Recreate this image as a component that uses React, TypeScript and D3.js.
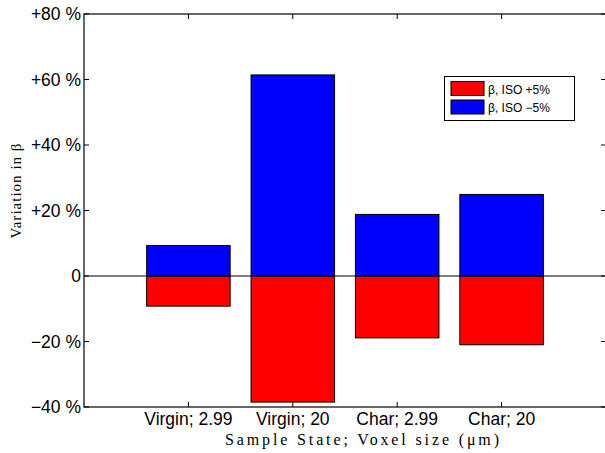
import React, { useRef, useEffect } from "react";
import * as d3 from "d3";

// data
const categories = ["Virgin; 2.99", "Virgin; 20", "Char; 2.99", "Char; 20"];
const isoPlus5 = [-9.2, -38.5, -18.9, -21.0];
const isoMinus5 = [9.3, 61.4, 18.8, 24.9];
const yTicks = [-40, -20, 0, 20, 40, 60, 80];
const yTickLabels = ["\u221240 %", "\u221220 %", "0", "+20 %", "+40 %", "+60 %", "+80 %"];
const legendLabels = ["\u03b2, ISO +5%", "\u03b2, ISO \u22125%"];
const seriesColors = ["#ff0000", "#0000ff"];

const App = () => {
  const ref = useRef<SVGSVGElement>(null);

  useEffect(() => {
    const width = 605;
    const height = 453;
    const m = { top: 14, right: 606, bottom: 407, left: 84 };

    const svg = d3.select(ref.current);
    svg.selectAll("*").remove();

    const x = d3.scaleLinear().domain([0, 5]).range([m.left, m.right]);
    const y = d3.scaleLinear().domain([-40, 80]).range([m.bottom, m.top]);
    const barW = (x(1) - x(0)) * 0.8;

    svg.append("rect").attr("width", width).attr("height", height).attr("fill", "#fff");

    // bars
    const series = [isoPlus5, isoMinus5];
    series.forEach((vals, si) => {
      svg
        .append("g")
        .selectAll("rect")
        .data(vals)
        .join("rect")
        .attr("x", (_d, i) => x(i + 1) - barW / 2)
        .attr("y", (d) => y(Math.max(0, d)))
        .attr("width", barW)
        .attr("height", (d) => Math.abs(y(d) - y(0)))
        .attr("fill", seriesColors[si])
        .attr("stroke", "#000")
        .attr("stroke-width", 1);
    });

    // zero line
    svg
      .append("line")
      .attr("x1", m.left)
      .attr("x2", m.right)
      .attr("y1", y(0))
      .attr("y2", y(0))
      .attr("stroke", "#000")
      .attr("stroke-width", 1);

    // box
    svg
      .append("rect")
      .attr("x", m.left)
      .attr("y", m.top)
      .attr("width", m.right - m.left)
      .attr("height", m.bottom - m.top)
      .attr("fill", "none")
      .attr("stroke", "#000")
      .attr("stroke-width", 1.2);

    // inward ticks
    const tk = 5;
    const ticks = svg.append("g").attr("stroke", "#000").attr("stroke-width", 1);
    yTicks.forEach((t) => {
      ticks.append("line").attr("x1", m.left).attr("x2", m.left + tk).attr("y1", y(t)).attr("y2", y(t));
      ticks.append("line").attr("x1", m.right).attr("x2", m.right - tk).attr("y1", y(t)).attr("y2", y(t));
    });
    categories.forEach((_c, i) => {
      ticks.append("line").attr("x1", x(i + 1)).attr("x2", x(i + 1)).attr("y1", m.bottom).attr("y2", m.bottom - tk);
      ticks.append("line").attr("x1", x(i + 1)).attr("x2", x(i + 1)).attr("y1", m.top).attr("y2", m.top + tk);
    });

    // y tick labels
    svg
      .append("g")
      .attr("font-family", "Liberation Sans, Arial, sans-serif")
      .attr("font-size", 17.5)
      .attr("text-anchor", "end")
      .selectAll("text")
      .data(yTicks)
      .join("text")
      .attr("x", m.left - 3)
      .attr("y", (d) => y(d))
      .attr("dy", "0.36em")
      .text((_d, i) => yTickLabels[i]);

    // x tick labels
    svg
      .append("g")
      .attr("font-family", "Liberation Sans, Arial, sans-serif")
      .attr("font-size", 17.5)
      .attr("text-anchor", "middle")
      .selectAll("text")
      .data(categories)
      .join("text")
      .attr("x", (_d, i) => x(i + 1))
      .attr("y", 425)
      .text((d) => d);

    // axis titles
    svg
      .append("text")
      .attr("x", 362)
      .attr("y", 445)
      .attr("text-anchor", "middle")
      .attr("font-family", "Liberation Serif, DejaVu Serif, serif")
      .attr("font-size", 16)
      .attr("textLength", 274)
      .attr("lengthAdjust", "spacing")
      .text("Sample State; Voxel size (\u03bcm)");

    svg
      .append("text")
      .attr("transform", "translate(21,191) rotate(-90)")
      .attr("text-anchor", "middle")
      .attr("font-family", "Liberation Serif, DejaVu Serif, serif")
      .attr("font-size", 15)
      .attr("textLength", 95)
      .attr("lengthAdjust", "spacing")
      .text("Variation in \u03b2");

    // legend
    const lg = svg.append("g");
    lg.append("rect")
      .attr("x", 444.5)
      .attr("y", 76.5)
      .attr("width", 130)
      .attr("height", 44)
      .attr("fill", "#fff")
      .attr("stroke", "#000")
      .attr("stroke-width", 1);
    legendLabels.forEach((lab, i) => {
      lg.append("rect")
        .attr("x", 451)
        .attr("y", 81.5 + i * 18.5)
        .attr("width", 33)
        .attr("height", 14)
        .attr("fill", seriesColors[i])
        .attr("stroke", "#000")
        .attr("stroke-width", 1);
      lg.append("text")
        .attr("x", 488)
        .attr("y", 93.5 + i * 18.5)
        .attr("font-family", "Liberation Sans, Arial, sans-serif")
        .attr("font-size", 12)
        .text(lab);
    });
  }, []);

  return (
    <svg
      ref={ref}
      width={605}
      height={453}
      style={{ position: "absolute", left: 0, top: 0, display: "block" }}
    />
  );
};

export default App;
